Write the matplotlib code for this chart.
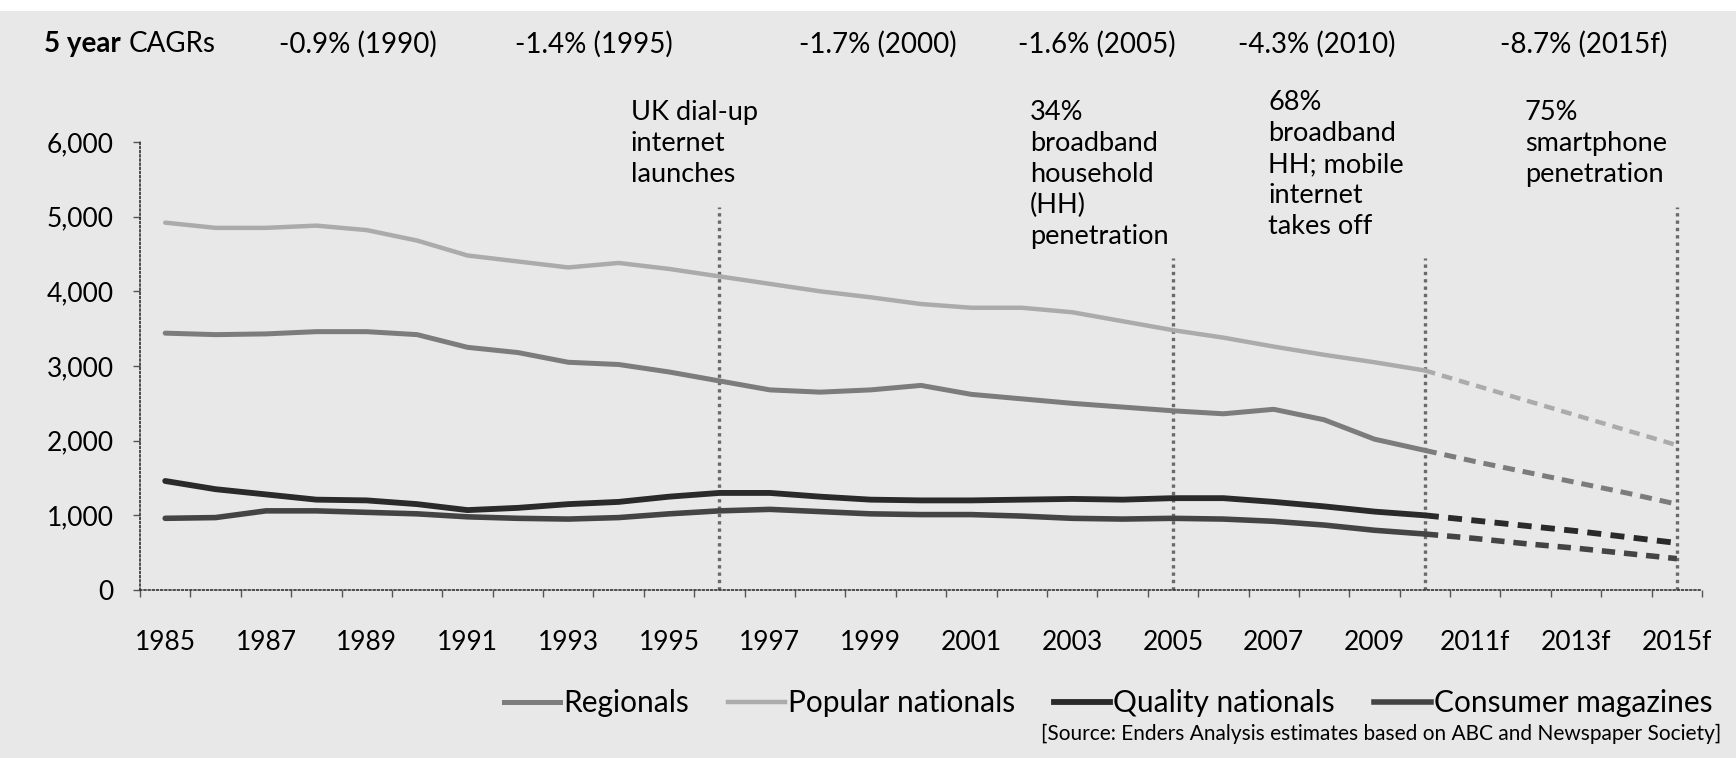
import matplotlib
matplotlib.use('Agg')
import matplotlib.pyplot as plt
from matplotlib.lines import Line2D
from matplotlib.patches import Rectangle
from matplotlib.ticker import FuncFormatter

plt.rcParams['font.family'] = ['Lato', 'DejaVu Sans']

# Categorías (años, los últimos son previsiones)
years = ['1985', '1986', '1987', '1988', '1989', '1990', '1991', '1992', '1993',
         '1994', '1995', '1996', '1997', '1998', '1999', '2000', '2001', '2002',
         '2003', '2004', '2005', '2006', '2007', '2008', '2009', '2010',
         '2011f', '2012f', '2013f', '2014f', '2015f']

regionals = [3440, 3420, 3430, 3460, 3460, 3420, 3250, 3180, 3050, 3020, 2920,
             2800, 2680, 2650, 2680, 2740, 2620, 2560, 2500, 2450, 2400, 2360,
             2420, 2280, 2020, 1870, 1720, 1580, 1440, 1300, 1150]
popular = [4920, 4850, 4850, 4880, 4820, 4680, 4480, 4400, 4320, 4380, 4300,
           4200, 4100, 4000, 3920, 3830, 3780, 3780, 3720, 3600, 3480, 3380,
           3260, 3150, 3050, 2940, 2740, 2540, 2340, 2140, 1940]
quality = [1460, 1350, 1280, 1210, 1200, 1150, 1070, 1100, 1150, 1180, 1250,
           1300, 1300, 1250, 1210, 1200, 1200, 1210, 1220, 1210, 1230, 1230,
           1180, 1120, 1050, 1000, 930, 860, 790, 710, 630]
consumer = [960, 970, 1060, 1060, 1040, 1020, 980, 960, 950, 970, 1020,
            1060, 1080, 1050, 1020, 1010, 1010, 990, 960, 950, 960, 950,
            920, 870, 800, 750, 690, 620, 560, 490, 420]

series_names = ['Regionals', 'Popular nationals', 'Quality nationals', 'Consumer magazines']
last_actual = '2010'

cagr_labels = ['-0.9% (1990)', '-1.4% (1995)', '-1.7% (2000)', '-1.6% (2005)',
               '-4.3% (2010)', '-8.7% (2015f)']

event_years = ['1996', '2005', '2010', '2015f']
event_tops = [5130, 4450, 4450, 5130]
event_notes = ['UK dial-up\ninternet\nlaunches',
               '34%\nbroadband\nhousehold\n(HH)\npenetration',
               '68%\nbroadband\nHH; mobile\ninternet\ntakes off',
               '75%\nsmartphone\npenetration']

W, H = 1736, 758
fig = plt.figure(figsize=(W / 100, H / 100), dpi=100, facecolor='#e8e8e8')


def px(x, y):
    # píxeles (origen arriba a la izquierda) -> fracción de figura
    return x / W, 1 - y / H


ax = fig.add_axes([140 / W, 1 - 590 / H, (1702 - 140) / W, (590 - 142) / H])
ax.set_facecolor('none')

x = list(range(len(years)))
cut = years.index(last_actual)
styles = [('#7c7c7c', 3.6), ('#ababab', 3.2), ('#2a2a2a', 4.2), ('#444444', 4.0)]
for vals, name, (col, lw) in zip([regionals, popular, quality, consumer], series_names, styles):
    ax.plot(x[:cut + 1], vals[:cut + 1], color=col, lw=lw, solid_capstyle='round', zorder=3)
    ax.plot(x[cut:], vals[cut:], color=col, lw=lw, dashes=(2.4, 1.6), zorder=3)

# Líneas verticales de eventos
for yr, top in zip(event_years, event_tops):
    i = years.index(yr)
    ax.plot([i, i], [0, top], color='#6a6a6a', lw=2.4, ls=(0, (1, 1.2)), zorder=2)

ax.set_xlim(-0.5, len(years) - 0.5)
ax.set_ylim(0, 6000)
ax.set_yticks(range(0, 6001, 1000))
ax.yaxis.set_major_formatter(FuncFormatter(lambda v, p: f'{int(v):,}'))
ax.set_xticks(x[::2])
ax.set_xticklabels(years[::2])
ax.set_xticks([i - 0.5 for i in range(len(years) + 1)], minor=True)
ax.tick_params(axis='x', which='major', length=0, pad=29, labelsize=19)
ax.tick_params(axis='x', which='minor', length=5, width=1, color='#555555', direction='out')
ax.tick_params(axis='y', length=5, width=1, color='#555555', pad=14, labelsize=19)

for side in ['top', 'right']:
    ax.spines[side].set_visible(False)
for side in ['left', 'bottom']:
    ax.spines[side].set_linestyle((0, (1, 1.5)))
    ax.spines[side].set_color('#333333')
    ax.spines[side].set_linewidth(1.2)

# Franja blanca superior
fig.patches.append(Rectangle((0, 1 - 11 / H), 1, 11 / H, transform=fig.transFigure,
                             facecolor='white', edgecolor='none'))

# Fila de CAGRs
t5 = fig.text(*px(44, 44), '5 year', fontsize=20, fontweight='bold', va='center', ha='left')
fig.canvas.draw()
x_end = t5.get_window_extent().x1
fig.text(x_end + 8, px(0, 44)[1] * H, 'CAGRs', fontsize=20, va='center', ha='left',
         transform=None)
cagr_x = [358, 594, 878, 1097, 1317, 1584]
for cx, lab in zip(cagr_x, cagr_labels):
    fig.text(*px(cx, 44), lab, fontsize=20, va='center', ha='center')

# Notas de eventos
note_pos = [(631, 100), (1030, 100), (1268, 90), (1525, 100)]
for (nx, ny), note in zip(note_pos, event_notes):
    fig.text(*px(nx, ny), note, fontsize=19.5, va='top', ha='left', linespacing=1.3)

# Leyenda
handles = [Line2D([0], [0], color=c, lw=lw) for c, lw in styles]
fig.legend(handles, series_names, loc='center right', bbox_to_anchor=px(1724, 703),
           ncol=4, frameon=False, fontsize=21.5, handlelength=1.9, handletextpad=0.1,
           columnspacing=1.3, borderaxespad=0)

fig.text(*px(1721, 734), '[Source: Enders Analysis estimates based on ABC and Newspaper Society]',
         fontsize=15, ha='right', va='center')

fig.savefig('out.png', dpi=100, facecolor=fig.get_facecolor())
